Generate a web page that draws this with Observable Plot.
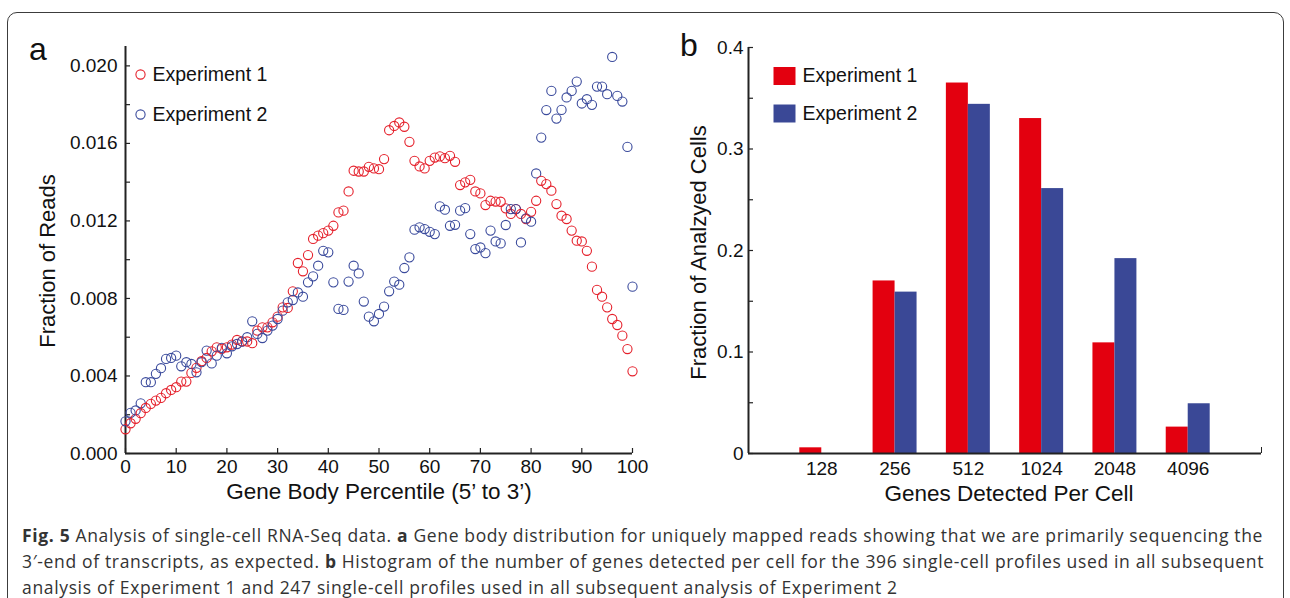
<!DOCTYPE html>
<html><head><meta charset="utf-8">
<script src="https://cdn.jsdelivr.net/npm/d3@7"></script>
<script src="https://cdn.jsdelivr.net/npm/@observablehq/plot@0.6"></script>
<style>
body{margin:0;background:#fff;width:1290px;height:598px;overflow:hidden;position:relative;font-family:"Liberation Sans",Arial,sans-serif;}
#frame{position:absolute;left:7px;top:12px;width:1277px;height:640px;border:1.5px solid #3c3c3c;border-radius:10px;box-sizing:border-box;}
#pa{position:absolute;left:0;top:0;}
#pb{position:absolute;left:660px;top:0;}
.plabel{position:absolute;font-size:32px;color:#111;line-height:1;}
#caption{position:absolute;left:22px;top:522px;font-family:"Open Sans",sans-serif;font-size:17.5px;line-height:26px;color:#333;white-space:nowrap;}
#caption span.line{display:inline-block;white-space:nowrap;}
</style></head>
<body>
<div id="frame"></div>
<div id="pa"></div>
<div id="pb"></div>
<div class="plabel" style="left:29px;top:33px;">a</div>
<div class="plabel" style="left:680px;top:29px;">b</div>
<div id="caption">
<span class="line"><b>Fig. 5</b> Analysis of single-cell RNA-Seq data. <b>a</b> Gene body distribution for uniquely mapped reads showing that we are primarily sequencing the</span><br>
<span class="line">3′-end of transcripts, as expected. <b>b</b> Histogram of the number of genes detected per cell for the 396 single-cell profiles used in all subsequent</span><br>
<span class="line">analysis of Experiment 1 and 247 single-cell profiles used in all subsequent analysis of Experiment 2</span>
</div>
<script>
// ---------- Panel a data ----------
const seriesNames = ["Experiment 1", "Experiment 2"];
const percentiles = d3.range(0, 101);
const exp1Reads = [
0.00125,0.00156,0.00179,0.00208,0.00235,0.00256,0.00273,0.00287,0.00311,0.00328,
0.00342,0.00371,0.00371,0.00416,0.00442,0.00476,0.00493,0.00527,0.00548,0.00540,
0.00548,0.00562,0.00586,0.00579,0.00578,0.00569,0.00634,0.00651,0.00651,0.00677,
0.00706,0.00754,0.00751,0.00837,0.00983,0.00940,0.01024,0.01107,0.01124,0.01137,
0.01150,0.01175,0.01244,0.01253,0.01352,0.01459,0.01455,0.01455,0.01479,0.01471,
0.01467,0.01519,0.01668,0.01690,0.01708,0.01686,0.01608,0.01510,0.01481,0.01471,
0.01510,0.01527,0.01533,0.01524,0.01536,0.01505,0.01385,0.01399,0.01412,0.01352,
0.01342,0.01282,0.01304,0.01300,0.01299,0.01265,0.01236,0.01261,0.01236,0.01210,
0.01247,0.01304,0.01407,0.01390,0.01356,0.01287,0.01227,0.01210,0.01150,0.01098,
0.01094,0.01046,0.00964,0.00844,0.00809,0.00754,0.00694,0.00663,0.00608,0.00539,
0.00424];
const exp2Reads = [
0.00166,0.00210,0.00222,0.00259,0.00368,0.00368,0.00411,0.00440,0.00488,0.00493,
0.00505,0.00450,0.00471,0.00462,0.00419,0.00471,0.00531,0.00465,0.00505,0.00545,
0.00517,0.00553,0.00565,0.00577,0.00600,0.00682,0.00617,0.00596,0.00634,0.00660,
0.00694,0.00737,0.00780,0.00792,0.00831,0.00809,0.00883,0.00914,0.00969,0.01046,
0.01038,0.00883,0.00746,0.00741,0.00887,0.00969,0.00929,0.00784,0.00706,0.00682,
0.00720,0.00758,0.00837,0.00887,0.00871,0.00957,0.01012,0.01155,0.01167,0.01158,
0.01144,0.01132,0.01275,0.01258,0.01175,0.01180,0.01253,0.01266,0.01132,0.01055,
0.01063,0.01034,0.01150,0.01094,0.01084,0.01179,0.01261,0.01261,0.01089,0.01213,
0.01196,0.01445,0.01630,0.01772,0.01871,0.01728,0.01773,0.01837,0.01871,0.01919,
0.01806,0.01828,0.01799,0.01893,0.01893,0.01854,0.02046,0.01845,0.01816,0.01582,
0.00861];
const xTicksA = [0,10,20,30,40,50,60,70,80,90,100];
const yTicksA = [0,0.002,0.004,0.006,0.008,0.010,0.012,0.014,0.016,0.018,0.020];
const yTickLabelsA = ["0.000","","0.004","","0.008","","0.012","","0.016","","0.020"];
const xTitleA = "Gene Body Percentile (5’ to 3’)";
const yTitleA = "Fraction of Reads";

// ---------- Panel b data ----------
const categories = ["128","256","512","1024","2048","4096"];
const exp1Frac = [0.0056,0.170,0.365,0.330,0.109,0.026];
const exp2Frac = [0.000,0.159,0.344,0.261,0.192,0.049];
const yTicksB = [0,0.05,0.1,0.15,0.2,0.25,0.3,0.35,0.4];
const yTickLabelsB = ["0","","0.1","","0.2","","0.3","","0.4"];
const xTitleB = "Genes Detected Per Cell";
const yTitleB = "Fraction of Analzyed Cells";

const redPt = "#e5202b", bluePt = "#3a4a9c";
const redBar = "#e3000f", blueBar = "#3a4896";
const axisCol = "#222";
const fontA = "Liberation Sans, Arial, sans-serif";

const rowsA = [];
percentiles.forEach((p, i) => {
  rowsA.push({pct: p, value: exp1Reads[i], series: seriesNames[0]});
  rowsA.push({pct: p, value: exp2Reads[i], series: seriesNames[1]});
});

const plotA = Plot.plot({
  width: 660, height: 510,
  marginLeft: 125, marginRight: 28, marginTop: 46, marginBottom: 57,
  style: {fontFamily: fontA, fontSize: "19px", color: "#111", background: "transparent", overflow: "visible"},
  x: {domain: [0, 100]},
  y: {domain: [0, 0.021]},
  color: {domain: seriesNames, range: [redPt, bluePt]},
  marks: [
    Plot.axisX({ticks: xTicksA, tickSize: -5, tickPadding: 11, tickFormat: d => String(d), label: null, stroke: axisCol, strokeWidth: 1.2}),
    Plot.axisY({ticks: yTicksA, tickSize: -5, tickPadding: 13, tickFormat: d => yTickLabelsA[yTicksA.indexOf(d)], label: null, stroke: axisCol, strokeWidth: 1.2}),
    Plot.ruleX([0], {stroke: axisCol, strokeWidth: 2}),
    Plot.ruleY([0], {stroke: axisCol, strokeWidth: 2}),
    Plot.dot(rowsA, {x: "pct", y: "value", stroke: "series", r: 4.6, strokeWidth: 1.1, fill: "none"}),
    Plot.dot([seriesNames[0]], {frameAnchor: "top-left", dx: 15, dy: 28, stroke: d => d, r: 4.6, strokeWidth: 1.1}),
    Plot.dot([seriesNames[1]], {frameAnchor: "top-left", dx: 15, dy: 68, stroke: d => d, r: 4.6, strokeWidth: 1.1}),
    Plot.text([seriesNames[0]], {frameAnchor: "top-left", dx: 27, dy: 28, text: d => d, textAnchor: "start", lineAnchor: "middle", fontSize: 19.5, fill: "#111"}),
    Plot.text([seriesNames[1]], {frameAnchor: "top-left", dx: 27, dy: 68, text: d => d, textAnchor: "start", lineAnchor: "middle", fontSize: 19.5, fill: "#111"}),
    Plot.text([yTitleA], {frameAnchor: "left", dx: -78, dy: 11, rotate: -90, text: d => d, textAnchor: "middle", lineAnchor: "middle", fontSize: 22, fill: "#111"}),
    Plot.text([xTitleA], {frameAnchor: "bottom", dy: 38, text: d => d, textAnchor: "middle", lineAnchor: "middle", fontSize: 22.5, fill: "#111"})
  ]
});
document.getElementById("pa").appendChild(plotA);

const barW = 0.3;
const rowsB = [];
categories.forEach((c, i) => {
  rowsB.push({pos: i + 1, series: seriesNames[0], v: exp1Frac[i], off: -1});
  rowsB.push({pos: i + 1, series: seriesNames[1], v: exp2Frac[i], off: 0});
});
// legend swatch: a 22x18 rectangle
const swatch = {draw(ctx) { ctx.rect(-11, -9, 22, 18); }};

const plotB = Plot.plot({
  width: 630, height: 510,
  marginLeft: 88, marginRight: 29, marginTop: 47, marginBottom: 57,
  style: {fontFamily: fontA, fontSize: "19px", color: "#111", background: "transparent", overflow: "visible"},
  x: {domain: [0, 7]},
  y: {domain: [0, 0.4]},
  color: {domain: seriesNames, range: [redBar, blueBar]},
  marks: [
    Plot.rect(rowsB, {x1: d => d.pos + d.off * barW, x2: d => d.pos + (d.off + 1) * barW, y1: 0, y2: "v", fill: "series"}),
    Plot.axisX({ticks: d3.range(1, categories.length + 1), tickSize: 0, tickPadding: 8, tickFormat: d => categories[d - 1], label: null}),
    Plot.axisX({ticks: [7], tickSize: -6, tickFormat: () => "", label: null, stroke: axisCol}),
    Plot.axisY({ticks: yTicksB, tickSize: -5, tickPadding: 10, tickFormat: d => yTickLabelsB[yTicksB.indexOf(d)], label: null, stroke: axisCol, strokeWidth: 1.2}),
    Plot.ruleX([0], {stroke: axisCol, strokeWidth: 2}),
    Plot.ruleY([0], {stroke: axisCol, strokeWidth: 2}),
    Plot.dot([seriesNames[0]], {frameAnchor: "top-left", dx: 36, dy: 28.5, symbol: swatch, fill: d => d}),
    Plot.dot([seriesNames[1]], {frameAnchor: "top-left", dx: 36, dy: 66, symbol: swatch, fill: d => d}),
    Plot.text([seriesNames[0]], {frameAnchor: "top-left", dx: 54, dy: 28.5, text: d => d, textAnchor: "start", lineAnchor: "middle", fontSize: 19.5, fill: "#111"}),
    Plot.text([seriesNames[1]], {frameAnchor: "top-left", dx: 54, dy: 66, text: d => d, textAnchor: "start", lineAnchor: "middle", fontSize: 19.5, fill: "#111"}),
    Plot.text([yTitleB], {frameAnchor: "left", dx: -50, dy: 2, rotate: -90, text: d => d, textAnchor: "middle", lineAnchor: "middle", fontSize: 22, fill: "#111"}),
    Plot.text([xTitleB], {frameAnchor: "bottom", dx: 4, dy: 40, text: d => d, textAnchor: "middle", lineAnchor: "middle", fontSize: 22.5, fill: "#111"})
  ]
});
document.getElementById("pb").appendChild(plotB);

// fit caption lines to the reference line length
const lines = document.querySelectorAll("#caption span.line");
const w0 = lines[0].getBoundingClientRect().width;
const ls = (1241 - w0) / lines[0].textContent.length;
lines.forEach(l => l.style.letterSpacing = ls + "px");
</script>
</body></html>
